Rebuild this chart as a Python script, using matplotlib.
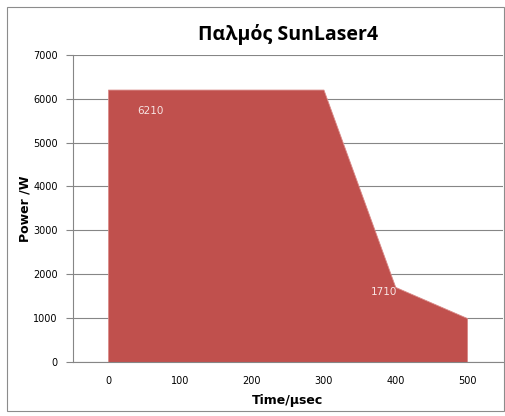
import matplotlib.pyplot as plt
from matplotlib.patches import Rectangle

# данные импульса
time_us = [0, 300, 400, 500]
power_w = [6210, 6210, 1710, 1000]
x_ticks = [0, 100, 200, 300, 400, 500]
y_ticks = [0, 1000, 2000, 3000, 4000, 5000, 6000, 7000]

fig = plt.figure(figsize=(5.06, 4.16), dpi=100)
ax = fig.add_axes([0.144, 0.130, 0.850, 0.738])

# рамка вокруг всей диаграммы
fig.patches.append(Rectangle((0.014, 0.012), 0.983, 0.97, transform=fig.transFigure,
                             fill=False, edgecolor="#8c8c8c", linewidth=0.8))

ax.fill_between(time_us, power_w, 0, color="#C0504D", edgecolor="#d98a88", linewidth=0.6, zorder=2)

ax.set_xlim(-49, 550)
ax.set_ylim(0, 7000)
ax.set_xticks(x_ticks)
ax.set_yticks(y_ticks)
ax.yaxis.grid(True, color="#868686", linewidth=0.8, zorder=0)
ax.set_axisbelow(True)

for s in ["top", "right"]:
    ax.spines[s].set_visible(False)
ax.spines["left"].set_color("#868686")
ax.spines["bottom"].set_color("#868686")
ax.tick_params(axis="y", length=5, color="#868686", labelsize=7, pad=6)
ax.tick_params(axis="x", length=0, labelsize=7, pad=10)

# подписи значений
ax.text(time_us[0] + 40, power_w[0] - 500, str(power_w[0]), color="#f7e4e3", fontsize=7.5, va="center")
ax.text(time_us[2] + 2, power_w[2] - 110, str(power_w[2]), color="#f7e4e3", fontsize=7.5, va="center", ha="right")

ax.set_title("Παλμός SunLaser4", fontsize=14, fontweight="bold", family="Open Sans", pad=11)
ax.set_xlabel("Time/μsec", fontsize=9, fontweight="heavy", labelpad=6)
ax.set_ylabel("Power /W", fontsize=9, fontweight="heavy")
ax.yaxis.set_label_coords(-0.096, 0.5)

fig.savefig("out.png", dpi=100)
